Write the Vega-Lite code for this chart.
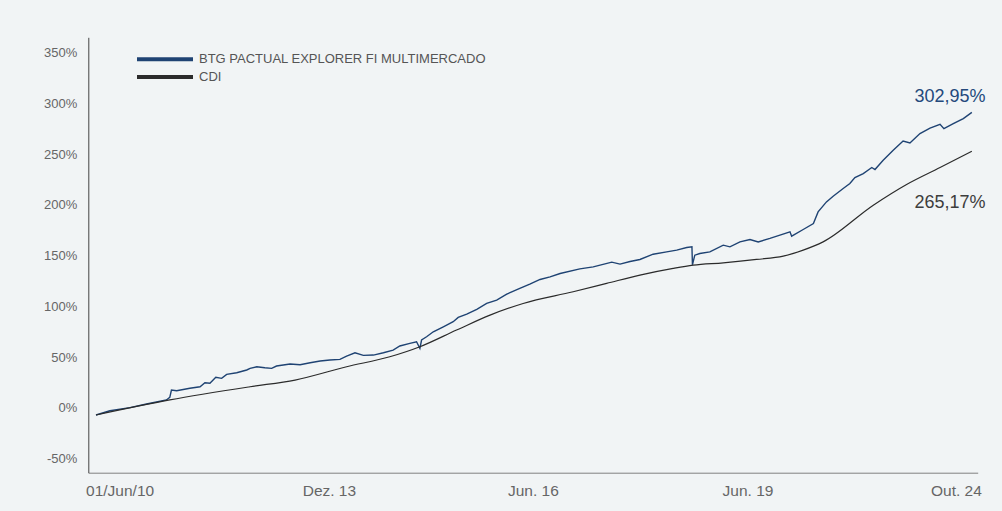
{
"$schema": "https://vega.github.io/schema/vega-lite/v6.json",
"width": 889.4, "height": 435.4,
"autosize": {"type": "none"},
"padding": {"left": 88.3, "top": 37.3, "right": 24.3, "bottom": 38.3},
"background": "#f1f4f5",
"config": {"view": {"stroke": null}, "font": "Liberation Sans"},
"datasets": {
"lines": [
{"date":"2010-06-01","value":-6.9,"series":"BTG PACTUAL EXPLORER FI MULTIMERCADO"},
{"date":"2010-08-23","value":-2.7,"series":"BTG PACTUAL EXPLORER FI MULTIMERCADO"},
{"date":"2010-12-21","value":0.3,"series":"BTG PACTUAL EXPLORER FI MULTIMERCADO"},
{"date":"2011-03-30","value":3.9,"series":"BTG PACTUAL EXPLORER FI MULTIMERCADO"},
{"date":"2011-07-27","value":7.9,"series":"BTG PACTUAL EXPLORER FI MULTIMERCADO"},
{"date":"2011-08-16","value":10.5,"series":"BTG PACTUAL EXPLORER FI MULTIMERCADO"},
{"date":"2011-08-26","value":17.7,"series":"BTG PACTUAL EXPLORER FI MULTIMERCADO"},
{"date":"2011-09-26","value":17.0,"series":"BTG PACTUAL EXPLORER FI MULTIMERCADO"},
{"date":"2011-12-14","value":19.4,"series":"BTG PACTUAL EXPLORER FI MULTIMERCADO"},
{"date":"2012-02-13","value":20.9,"series":"BTG PACTUAL EXPLORER FI MULTIMERCADO"},
{"date":"2012-03-13","value":24.9,"series":"BTG PACTUAL EXPLORER FI MULTIMERCADO"},
{"date":"2012-04-12","value":24.3,"series":"BTG PACTUAL EXPLORER FI MULTIMERCADO"},
{"date":"2012-05-17","value":30.2,"series":"BTG PACTUAL EXPLORER FI MULTIMERCADO"},
{"date":"2012-06-21","value":29.2,"series":"BTG PACTUAL EXPLORER FI MULTIMERCADO"},
{"date":"2012-07-21","value":33.1,"series":"BTG PACTUAL EXPLORER FI MULTIMERCADO"},
{"date":"2012-09-19","value":34.7,"series":"BTG PACTUAL EXPLORER FI MULTIMERCADO"},
{"date":"2012-11-18","value":37.4,"series":"BTG PACTUAL EXPLORER FI MULTIMERCADO"},
{"date":"2012-12-08","value":39.0,"series":"BTG PACTUAL EXPLORER FI MULTIMERCADO"},
{"date":"2013-01-17","value":40.6,"series":"BTG PACTUAL EXPLORER FI MULTIMERCADO"},
{"date":"2013-03-06","value":39.6,"series":"BTG PACTUAL EXPLORER FI MULTIMERCADO"},
{"date":"2013-04-16","value":39.0,"series":"BTG PACTUAL EXPLORER FI MULTIMERCADO"},
{"date":"2013-05-15","value":41.3,"series":"BTG PACTUAL EXPLORER FI MULTIMERCADO"},
{"date":"2013-08-04","value":43.3,"series":"BTG PACTUAL EXPLORER FI MULTIMERCADO"},
{"date":"2013-10-03","value":42.6,"series":"BTG PACTUAL EXPLORER FI MULTIMERCADO"},
{"date":"2013-12-02","value":44.5,"series":"BTG PACTUAL EXPLORER FI MULTIMERCADO"},
{"date":"2014-01-31","value":46.2,"series":"BTG PACTUAL EXPLORER FI MULTIMERCADO"},
{"date":"2014-03-30","value":47.2,"series":"BTG PACTUAL EXPLORER FI MULTIMERCADO"},
{"date":"2014-05-29","value":47.9,"series":"BTG PACTUAL EXPLORER FI MULTIMERCADO"},
{"date":"2014-07-08","value":51.1,"series":"BTG PACTUAL EXPLORER FI MULTIMERCADO"},
{"date":"2014-08-27","value":54.4,"series":"BTG PACTUAL EXPLORER FI MULTIMERCADO"},
{"date":"2014-10-16","value":51.8,"series":"BTG PACTUAL EXPLORER FI MULTIMERCADO"},
{"date":"2014-12-15","value":52.1,"series":"BTG PACTUAL EXPLORER FI MULTIMERCADO"},
{"date":"2015-02-13","value":54.4,"series":"BTG PACTUAL EXPLORER FI MULTIMERCADO"},
{"date":"2015-04-12","value":57.0,"series":"BTG PACTUAL EXPLORER FI MULTIMERCADO"},
{"date":"2015-05-22","value":61.0,"series":"BTG PACTUAL EXPLORER FI MULTIMERCADO"},
{"date":"2015-07-21","value":63.6,"series":"BTG PACTUAL EXPLORER FI MULTIMERCADO"},
{"date":"2015-08-30","value":65.2,"series":"BTG PACTUAL EXPLORER FI MULTIMERCADO"},
{"date":"2015-09-19","value":58.7,"series":"BTG PACTUAL EXPLORER FI MULTIMERCADO"},
{"date":"2015-09-29","value":66.9,"series":"BTG PACTUAL EXPLORER FI MULTIMERCADO"},
{"date":"2015-10-29","value":70.1,"series":"BTG PACTUAL EXPLORER FI MULTIMERCADO"},
{"date":"2015-12-08","value":75.0,"series":"BTG PACTUAL EXPLORER FI MULTIMERCADO"},
{"date":"2016-02-06","value":79.9,"series":"BTG PACTUAL EXPLORER FI MULTIMERCADO"},
{"date":"2016-04-05","value":84.9,"series":"BTG PACTUAL EXPLORER FI MULTIMERCADO"},
{"date":"2016-05-05","value":89.2,"series":"BTG PACTUAL EXPLORER FI MULTIMERCADO"},
{"date":"2016-06-25","value":92.4,"series":"BTG PACTUAL EXPLORER FI MULTIMERCADO"},
{"date":"2016-08-24","value":97.1,"series":"BTG PACTUAL EXPLORER FI MULTIMERCADO"},
{"date":"2016-10-22","value":102.9,"series":"BTG PACTUAL EXPLORER FI MULTIMERCADO"},
{"date":"2016-12-21","value":106.2,"series":"BTG PACTUAL EXPLORER FI MULTIMERCADO"},
{"date":"2017-02-19","value":112.1,"series":"BTG PACTUAL EXPLORER FI MULTIMERCADO"},
{"date":"2017-05-08","value":117.7,"series":"BTG PACTUAL EXPLORER FI MULTIMERCADO"},
{"date":"2017-07-07","value":121.9,"series":"BTG PACTUAL EXPLORER FI MULTIMERCADO"},
{"date":"2017-09-06","value":126.5,"series":"BTG PACTUAL EXPLORER FI MULTIMERCADO"},
{"date":"2017-11-05","value":129.1,"series":"BTG PACTUAL EXPLORER FI MULTIMERCADO"},
{"date":"2018-01-04","value":132.4,"series":"BTG PACTUAL EXPLORER FI MULTIMERCADO"},
{"date":"2018-05-02","value":137.0,"series":"BTG PACTUAL EXPLORER FI MULTIMERCADO"},
{"date":"2018-07-21","value":138.9,"series":"BTG PACTUAL EXPLORER FI MULTIMERCADO"},
{"date":"2018-11-09","value":143.6,"series":"BTG PACTUAL EXPLORER FI MULTIMERCADO"},
{"date":"2018-12-28","value":141.6,"series":"BTG PACTUAL EXPLORER FI MULTIMERCADO"},
{"date":"2019-02-26","value":144.2,"series":"BTG PACTUAL EXPLORER FI MULTIMERCADO"},
{"date":"2019-04-26","value":146.2,"series":"BTG PACTUAL EXPLORER FI MULTIMERCADO"},
{"date":"2019-07-14","value":151.4,"series":"BTG PACTUAL EXPLORER FI MULTIMERCADO"},
{"date":"2019-10-03","value":153.7,"series":"BTG PACTUAL EXPLORER FI MULTIMERCADO"},
{"date":"2019-12-02","value":155.4,"series":"BTG PACTUAL EXPLORER FI MULTIMERCADO"},
{"date":"2020-01-31","value":158.0,"series":"BTG PACTUAL EXPLORER FI MULTIMERCADO"},
{"date":"2020-03-02","value":158.6,"series":"BTG PACTUAL EXPLORER FI MULTIMERCADO"},
{"date":"2020-03-05","value":141.0,"series":"BTG PACTUAL EXPLORER FI MULTIMERCADO"},
{"date":"2020-03-19","value":150.4,"series":"BTG PACTUAL EXPLORER FI MULTIMERCADO"},
{"date":"2020-04-18","value":152.1,"series":"BTG PACTUAL EXPLORER FI MULTIMERCADO"},
{"date":"2020-06-17","value":153.7,"series":"BTG PACTUAL EXPLORER FI MULTIMERCADO"},
{"date":"2020-09-05","value":160.3,"series":"BTG PACTUAL EXPLORER FI MULTIMERCADO"},
{"date":"2020-10-15","value":158.6,"series":"BTG PACTUAL EXPLORER FI MULTIMERCADO"},
{"date":"2020-12-14","value":163.5,"series":"BTG PACTUAL EXPLORER FI MULTIMERCADO"},
{"date":"2021-02-12","value":165.9,"series":"BTG PACTUAL EXPLORER FI MULTIMERCADO"},
{"date":"2021-04-02","value":163.5,"series":"BTG PACTUAL EXPLORER FI MULTIMERCADO"},
{"date":"2021-06-11","value":166.9,"series":"BTG PACTUAL EXPLORER FI MULTIMERCADO"},
{"date":"2021-08-10","value":170.1,"series":"BTG PACTUAL EXPLORER FI MULTIMERCADO"},
{"date":"2021-10-09","value":173.4,"series":"BTG PACTUAL EXPLORER FI MULTIMERCADO"},
{"date":"2021-10-19","value":169.1,"series":"BTG PACTUAL EXPLORER FI MULTIMERCADO"},
{"date":"2021-12-27","value":175.7,"series":"BTG PACTUAL EXPLORER FI MULTIMERCADO"},
{"date":"2022-02-26","value":181.6,"series":"BTG PACTUAL EXPLORER FI MULTIMERCADO"},
{"date":"2022-03-26","value":193.0,"series":"BTG PACTUAL EXPLORER FI MULTIMERCADO"},
{"date":"2022-05-15","value":202.9,"series":"BTG PACTUAL EXPLORER FI MULTIMERCADO"},
{"date":"2022-06-24","value":208.5,"series":"BTG PACTUAL EXPLORER FI MULTIMERCADO"},
{"date":"2022-08-23","value":216.0,"series":"BTG PACTUAL EXPLORER FI MULTIMERCADO"},
{"date":"2022-10-02","value":221.0,"series":"BTG PACTUAL EXPLORER FI MULTIMERCADO"},
{"date":"2022-11-01","value":226.8,"series":"BTG PACTUAL EXPLORER FI MULTIMERCADO"},
{"date":"2022-12-21","value":230.8,"series":"BTG PACTUAL EXPLORER FI MULTIMERCADO"},
{"date":"2023-02-10","value":236.7,"series":"BTG PACTUAL EXPLORER FI MULTIMERCADO"},
{"date":"2023-03-01","value":234.7,"series":"BTG PACTUAL EXPLORER FI MULTIMERCADO"},
{"date":"2023-04-19","value":243.9,"series":"BTG PACTUAL EXPLORER FI MULTIMERCADO"},
{"date":"2023-06-18","value":253.7,"series":"BTG PACTUAL EXPLORER FI MULTIMERCADO"},
{"date":"2023-08-16","value":262.8,"series":"BTG PACTUAL EXPLORER FI MULTIMERCADO"},
{"date":"2023-09-26","value":260.9,"series":"BTG PACTUAL EXPLORER FI MULTIMERCADO"},
{"date":"2023-11-25","value":270.1,"series":"BTG PACTUAL EXPLORER FI MULTIMERCADO"},
{"date":"2024-01-24","value":275.6,"series":"BTG PACTUAL EXPLORER FI MULTIMERCADO"},
{"date":"2024-03-24","value":279.3,"series":"BTG PACTUAL EXPLORER FI MULTIMERCADO"},
{"date":"2024-04-16","value":275.0,"series":"BTG PACTUAL EXPLORER FI MULTIMERCADO"},
{"date":"2024-06-11","value":279.9,"series":"BTG PACTUAL EXPLORER FI MULTIMERCADO"},
{"date":"2024-08-10","value":284.9,"series":"BTG PACTUAL EXPLORER FI MULTIMERCADO"},
{"date":"2024-09-30","value":291.0,"series":"BTG PACTUAL EXPLORER FI MULTIMERCADO"},
{"date":"2010-06-01","value":-6.9,"series":"CDI"},
{"date":"2011-08-16","value":7.9,"series":"CDI"},
{"date":"2012-12-08","value":20.9,"series":"CDI"},
{"date":"2013-09-03","value":27.5,"series":"CDI"},
{"date":"2014-07-08","value":40.6,"series":"CDI"},
{"date":"2015-03-23","value":50.4,"series":"CDI"},
{"date":"2015-09-19","value":60.3,"series":"CDI"},
{"date":"2016-04-25","value":76.7,"series":"CDI"},
{"date":"2016-11-11","value":91.4,"series":"CDI"},
{"date":"2017-05-28","value":102.9,"series":"CDI"},
{"date":"2018-03-23","value":114.4,"series":"CDI"},
{"date":"2018-10-09","value":122.6,"series":"CDI"},
{"date":"2019-04-26","value":130.8,"series":"CDI"},
{"date":"2019-11-11","value":137.4,"series":"CDI"},
{"date":"2020-03-10","value":140.6,"series":"CDI"},
{"date":"2020-09-05","value":142.9,"series":"CDI"},
{"date":"2021-03-23","value":146.2,"series":"CDI"},
{"date":"2021-08-30","value":149.5,"series":"CDI"},
{"date":"2021-12-27","value":155.4,"series":"CDI"},
{"date":"2022-04-25","value":163.5,"series":"CDI"},
{"date":"2023-02-19","value":199.6,"series":"CDI"},
{"date":"2023-09-06","value":220.0,"series":"CDI"},
{"date":"2024-03-24","value":236.7,"series":"CDI"},
{"date":"2024-09-30","value":252.7,"series":"CDI"}
],
"labels": [
{"date":"2024-05-22","value":306.3,"label":"302,95%","series":"BTG PACTUAL EXPLORER FI MULTIMERCADO"},
{"date":"2024-05-22","value":202.0,"label":"265,17%","series":"CDI"}
]
},
"layer": [
{
"data": {"name": "lines"},
"transform": [{"filter": "datum.series != 'CDI'"}],
"mark": {"type": "line", "strokeWidth": 1.4},
"encoding": {
"x": {"field": "date", "type": "temporal",
 "scale": {"domain": [{"year":2010,"month":4,"date":16},{"year":2024,"month":11,"date":4}]},
 "axis": {"title": null, "grid": false, "ticks": false, "tickSize": 0, "domainColor": "#808080", "domainWidth": 1,
  "values": [{"year":2010,"month":10,"date":20},{"year":2014,"month":3,"date":24},{"year":2017,"month":7,"date":25},{"year":2021,"month":1,"date":28},{"year":2024,"month":6,"date":27}],
  "labelExpr": "year(datum.value)==2010 ? '01/Jun/10' : year(datum.value)==2014 ? 'Dez. 13' : year(datum.value)==2017 ? 'Jun. 16' : year(datum.value)==2021 ? 'Jun. 19' : 'Out. 24'",
  "labelFontSize": 15.5, "labelColor": "#666666", "labelPadding": 11, "labelFlush": false, "labelOverlap": false}},
"y": {"field": "value", "type": "quantitative",
 "scale": {"domain": [-63.7, 364.9], "nice": false, "zero": false},
 "axis": {"title": null, "grid": false, "ticks": false, "tickSize": 0, "domainColor": "#444444", "domainWidth": 1,
  "values": [-50,0,50,100,150,200,250,300,350], "labelExpr": "datum.value + '%'",
  "labelFontSize": 13, "labelColor": "#666666", "labelPadding": 11.5}},
"color": {"field": "series", "type": "nominal",
 "scale": {"domain": ["BTG PACTUAL EXPLORER FI MULTIMERCADO","CDI"], "range": ["#1f4373","#2b2b2b"]},
 "legend": {"orient": "none", "legendX": 67.7, "legendY": 13, "title": null, "padding": 0,
  "symbolType": "M-4,0H4", "symbolSize": 196, "symbolStrokeWidth": 4,
  "labelFontSize": 13, "labelColor": "#555555", "labelOffset": 25, "rowPadding": 0.7, "labelLimit": 500}}
}
},
{
"data": {"name": "lines"},
"transform": [{"filter": "datum.series == 'CDI'"}],
"mark": {"type": "line", "strokeWidth": 1.2, "interpolate": "monotone"},
"encoding": {
"x": {"field": "date", "type": "temporal"},
"y": {"field": "value", "type": "quantitative"},
"color": {"field": "series", "type": "nominal"}
}
},
{
"data": {"name": "labels"},
"transform": [{"filter": "datum.series == 'CDI'"}],
"mark": {"type": "text", "fontSize": 18, "color": "#3d3d3d", "align": "center", "baseline": "middle"},
"encoding": {"x": {"field": "date", "type": "temporal"}, "y": {"field": "value", "type": "quantitative"}, "text": {"field": "label"}}
},
{
"data": {"name": "labels"},
"transform": [{"filter": "datum.series != 'CDI'"}],
"mark": {"type": "text", "fontSize": 18, "color": "#24497c", "align": "center", "baseline": "middle"},
"encoding": {"x": {"field": "date", "type": "temporal"}, "y": {"field": "value", "type": "quantitative"}, "text": {"field": "label"}}
}
]
}
